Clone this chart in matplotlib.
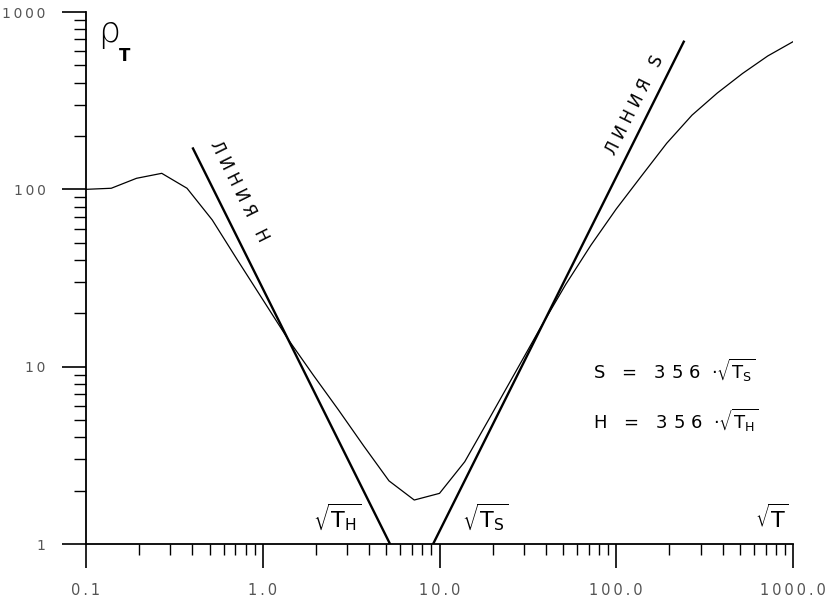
import numpy as np
import matplotlib
matplotlib.use("Agg")
import matplotlib.pyplot as plt

plt.rcParams["mathtext.default"] = "regular"

# sounding curve: sqrt(T) on x, rho_T on y (7 points per decade)
sqrt_t = 10 ** (-1 + np.arange(29) / 7)
rho_t = [100, 101.4, 115.4, 123.1, 101.4, 67.2, 39.9, 23.9, 14.3, 8.97,
         5.70, 3.57, 2.27, 1.77, 1.93, 2.91, 5.18, 9.27, 16.6, 29.1,
         48.5, 77.5, 119, 182, 262, 349, 450, 565, 680]

# asymptote lines
h_line_x = [0.403, 5.25]
h_line_y = [170, 1]
s_line_x = [9.2, 241]
s_line_y = [1, 680]

sp = "\u2009"  # thin space between characters, like the plotter font
xticks = [0.1, 1, 10, 100, 1000]
xtick_labels = [sp.join(s) for s in ["0.1", "1.0", "10.0", "100.0", "1000.0"]]
yticks = [1, 10, 100, 1000]
ytick_labels = [sp.join(s) for s in ["1", "10", "100", "1000"]]

fig = plt.figure(figsize=(8.27, 6.05), dpi=100)
ax = fig.add_axes([86 / 827, 1 - 544 / 605, 707 / 827, 532 / 605])

ax.plot(sqrt_t, rho_t, color="black", lw=0.9)
ax.plot(h_line_x, h_line_y, color="black", lw=1.7)
ax.plot(s_line_x, s_line_y, color="black", lw=1.7)

ax.set_xscale("log")
ax.set_yscale("log")
ax.set_xlim(0.1, 1000)
ax.set_ylim(1, 1000)

for s in ["top", "right"]:
    ax.spines[s].set_visible(False)
for s in ["left", "bottom"]:
    ax.spines[s].set_linewidth(1.3)

ax.set_xticks(xticks)
ax.set_xticklabels(xtick_labels, fontsize=10.5, color="#555555")
ax.set_yticks(yticks)
ax.set_yticklabels(ytick_labels, fontsize=10, color="#555555")
ax.tick_params(which="major", length=17, width=1.2, direction="out")
ax.tick_params(axis="x", which="major", pad=11)
ax.tick_params(axis="y", which="major", pad=12)
ax.tick_params(axis="x", which="minor", length=8, width=1.0, direction="out")
ax.tick_params(axis="y", which="minor", length=9, width=1.0, direction="out")
ax.xaxis.set_minor_formatter(matplotlib.ticker.NullFormatter())
ax.yaxis.set_minor_formatter(matplotlib.ticker.NullFormatter())

# labels
ax.text(0.017, 0.995, "ρ", transform=ax.transAxes, fontsize=25, va="top", ha="left",
        fontweight="light")
ax.text(0.046, 0.935, "T", transform=ax.transAxes, fontsize=12, va="top", ha="left",
        fontweight="bold")

ax.text(0.216, 0.662, "Л И Н И Я   H", transform=ax.transAxes, fontsize=12,
        rotation=-63.6, ha="center", va="center", rotation_mode="anchor")
ax.text(0.776, 0.825, "Л И Н И Я   S", transform=ax.transAxes, fontsize=12,
        rotation=63.4, ha="center", va="center", rotation_mode="anchor")

ax.text(0.717, 0.327, r"S   =   3 5 6  $\cdot\sqrt{T_S}$",
        transform=ax.transAxes, fontsize=13, ha="left", va="center")
ax.text(0.717, 0.233, r"H   =   3 5 6  $\cdot\sqrt{T_H}$",
        transform=ax.transAxes, fontsize=13, ha="left", va="center")

ax.text(0.321, 0.05, r"$\sqrt{T_H}$", transform=ax.transAxes, fontsize=16,
        ha="left", va="center")
ax.text(0.532, 0.05, r"$\sqrt{T_S}$", transform=ax.transAxes, fontsize=16,
        ha="left", va="center")
ax.text(0.946, 0.05, r"$\sqrt{T}$", transform=ax.transAxes, fontsize=16,
        ha="left", va="center")

fig.savefig("out.png", dpi=100)
